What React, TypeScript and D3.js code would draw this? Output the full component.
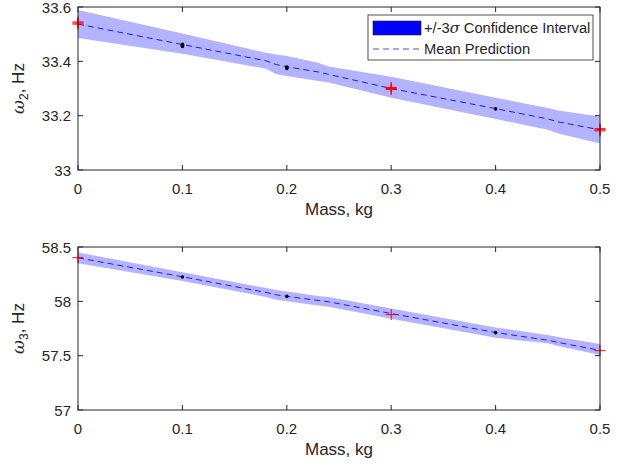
import React from 'react';
import * as d3 from 'd3';

// mass grid where the prediction band was sampled (kg)
const massGrid = [0, 0.1, 0.18, 0.19, 0.2, 0.23, 0.24, 0.3, 0.4, 0.45, 0.46, 0.5];

// omega_2 prediction, Hz
const w2Mean = [33.537, 33.462, 33.402, 33.388, 33.38, 33.361, 33.352, 33.3, 33.226, 33.188, 33.177, 33.148];
const w2Upper = [33.589, 33.502, 33.432, 33.425, 33.42, 33.395, 33.381, 33.343, 33.266, 33.228, 33.219, 33.197];
const w2Lower = [33.486, 33.428, 33.373, 33.352, 33.346, 33.328, 33.322, 33.266, 33.188, 33.148, 33.134, 33.098];

// omega_3 prediction, Hz
const w3Mean = [58.4, 58.226, 58.082, 58.06, 58.046, 58.008, 57.996, 57.888, 57.713, 57.642, 57.622, 57.548];
const w3Upper = [58.45, 58.268, 58.122, 58.104, 58.09, 58.05, 58.04, 57.935, 57.76, 57.69, 57.672, 57.607];
const w3Lower = [58.35, 58.186, 58.04, 58.014, 58.0, 57.962, 57.95, 57.84, 57.664, 57.614, 57.59, 57.505];

// measured points: red = validation, black = training
const w2RedMass = [0, 0, 0, 0.3, 0.3, 0.3, 0.5, 0.5, 0.5];
const w2RedVal = [33.537, 33.541, 33.545, 33.296, 33.3, 33.304, 33.144, 33.148, 33.152];
const w2BlackMass = [0.1, 0.1, 0.1, 0.2, 0.2, 0.4];
const w2BlackVal = [33.455, 33.459, 33.463, 33.374, 33.379, 33.225];

const w3RedMass = [0, 0.3, 0.5];
const w3RedVal = [58.402, 57.878, 57.546];
const w3BlackMass = [0.1, 0.2, 0.4];
const w3BlackVal = [58.224, 58.046, 57.712];

const xTicks = [0, 0.1, 0.2, 0.3, 0.4, 0.5];
const w2Ticks = [33, 33.2, 33.4, 33.6];
const w3Ticks = [57, 57.5, 58, 58.5];

const AX = '#262626';
const BAND = '#b3b3ff';
const FONT = "'Liberation Sans', Arial, Helvetica, sans-serif";

const x0 = 78;
const x1 = 600;

type PanelProps = {
  top: number;
  bottom: number;
  domain: [number, number];
  yTicks: number[];
  mean: number[];
  upper: number[];
  lower: number[];
  redM: number[];
  redV: number[];
  blackM: number[];
  blackV: number[];
  sub: string;
  showLegend?: boolean;
};

const Panel = ({ top, bottom, domain, yTicks, mean, upper, lower, redM, redV, blackM, blackV, sub, showLegend }: PanelProps) => {
  const x = d3.scaleLinear().domain([0, 0.5]).range([x0, x1]);
  const y = d3.scaleLinear().domain(domain).range([bottom, top]);
  const idx = massGrid.map((_, i) => i);

  const band = d3.area<number>()
    .x(i => x(massGrid[i]))
    .y0(i => y(lower[i]))
    .y1(i => y(upper[i]))(idx) || '';
  const line = d3.line<number>()
    .x(i => x(massGrid[i]))
    .y(i => y(mean[i]))(idx) || '';

  const tl = 5;
  const midY = (top + bottom) / 2;

  return (
    <g>
      <rect x={x0} y={top} width={x1 - x0} height={bottom - top} fill="#fff" />
      <path d={band} fill={BAND} stroke="none" />
      <path d={line} fill="none" stroke="#1a1aff" strokeWidth={1} strokeDasharray="6,4" />
      {blackM.map((m, i) => (
        <circle key={'b' + i} cx={x(m)} cy={y(blackV[i])} r={1.8} fill="#000" />
      ))}
      {redM.map((m, i) => (
        <g key={'r' + i} stroke="#ff0000" strokeWidth={1}>
          <line x1={x(m) - 5.5} x2={x(m) + 5.5} y1={y(redV[i])} y2={y(redV[i])} />
          <line x1={x(m)} x2={x(m)} y1={y(redV[i]) - 5.5} y2={y(redV[i]) + 5.5} />
        </g>
      ))}

      {/* box and ticks */}
      <rect x={x0} y={top} width={x1 - x0} height={bottom - top} fill="none" stroke={AX} strokeWidth={1} />
      {xTicks.map(t => (
        <g key={'xt' + t} stroke={AX} strokeWidth={1}>
          <line x1={x(t)} x2={x(t)} y1={bottom} y2={bottom - tl} />
          <line x1={x(t)} x2={x(t)} y1={top} y2={top + tl} />
        </g>
      ))}
      {yTicks.map(t => (
        <g key={'yt' + t} stroke={AX} strokeWidth={1}>
          <line x1={x0} x2={x0 + tl} y1={y(t)} y2={y(t)} />
          <line x1={x1} x2={x1 - tl} y1={y(t)} y2={y(t)} />
        </g>
      ))}
      {xTicks.map(t => (
        <text key={'xl' + t} x={x(t)} y={bottom + 24} textAnchor="middle" fontSize={15} fill={AX} fontFamily={FONT}>
          {String(t)}
        </text>
      ))}
      {yTicks.map(t => (
        <text key={'yl' + t} x={x0 - 7} y={y(t) + 5.5} textAnchor="end" fontSize={15} fill={AX} fontFamily={FONT}>
          {String(t)}
        </text>
      ))}
      <text x={(x0 + x1) / 2} y={bottom + 45} textAnchor="middle" fontSize={17} fill={AX} fontFamily={FONT}>
        Mass, kg
      </text>
      <text transform={`translate(24,${midY}) rotate(-90)`} textAnchor="middle" fontSize={17} fill={AX} fontFamily={FONT}>
        <tspan fontFamily="'DejaVu Serif', 'Liberation Serif', serif" fontStyle="italic">ω</tspan>
        <tspan fontSize={12} dy={4}>{sub}</tspan>
        <tspan dy={-4}>, Hz</tspan>
      </text>

      {showLegend && (
        <g>
          <rect x={368} y={15} width={225} height={45} fill="#fff" stroke={AX} strokeWidth={0.8} />
          <rect x={373} y={21} width={48} height={14} fill="#0000ff" stroke={AX} strokeWidth={0.6} />
          <text x={424} y={33} fontSize={14.7} fill={AX} fontFamily={FONT}>
            +/-3<tspan fontFamily="'DejaVu Serif', serif" fontStyle="italic">σ</tspan> Confidence Interval
          </text>
          <line x1={373} x2={420} y1={49} y2={49} stroke="#4d4dff" strokeWidth={1} strokeDasharray="6,4" />
          <text x={424} y={54} fontSize={14.7} fill={AX} fontFamily={FONT}>
            Mean Prediction
          </text>
        </g>
      )}
    </g>
  );
};

export default function App() {
  return (
    <svg width={617} height={469} style={{ position: 'absolute', left: 0, top: 0, background: '#fff' }}>
      <rect width={617} height={469} fill="#fff" />
      <Panel top={7} bottom={170} domain={[33, 33.6]} yTicks={w2Ticks}
        mean={w2Mean} upper={w2Upper} lower={w2Lower}
        redM={w2RedMass} redV={w2RedVal} blackM={w2BlackMass} blackV={w2BlackVal} sub="2" showLegend />
      <Panel top={247} bottom={410} domain={[57, 58.5]} yTicks={w3Ticks}
        mean={w3Mean} upper={w3Upper} lower={w3Lower}
        redM={w3RedMass} redV={w3RedVal} blackM={w3BlackMass} blackV={w3BlackVal} sub="3" />
    </svg>
  );
}
